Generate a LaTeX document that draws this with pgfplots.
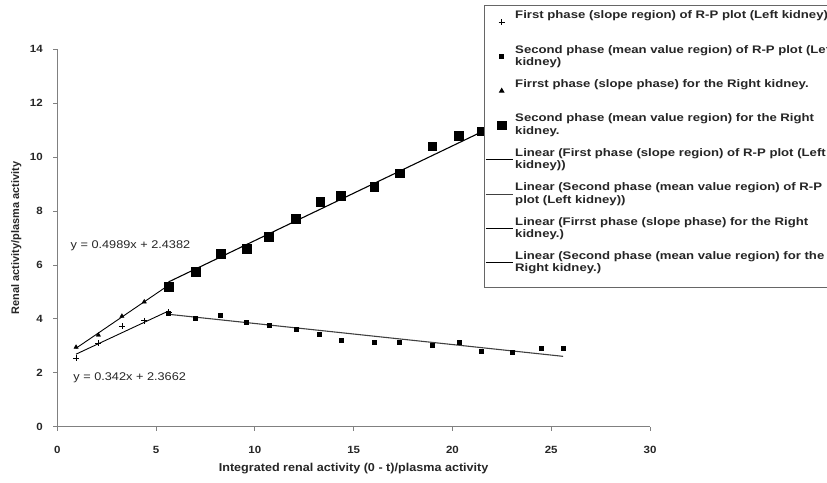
\documentclass[border=0pt]{standalone}
\usepackage{fontspec}
\setmainfont{Liberation Sans}[FakeStretch=1.1]
\newfontfamily\xlabfont{Liberation Sans Bold}[FakeStretch=1.1]
\newfontfamily\ylabfont{Liberation Sans Bold}
\newfontfamily\lgfont{Liberation Sans Bold}[FakeStretch=1.2]
\newfontfamily\eqfont{Liberation Sans}[FakeStretch=1.14]
\usepackage{pgfplots}
\pgfplotsset{compat=1.18}
\newcommand{\lgent}[1]{\parbox[t][30.4bp][t]{360bp}{\raggedright #1}}
\begin{document}
\begin{tikzpicture}
\useasboundingbox (0,0) rectangle (827bp,483bp);
\begin{axis}[
  at={(57.3bp,56.3bp)}, anchor=south west,
  scale only axis, width=592.7bp, height=377.4bp,
  xmin=0, xmax=30, ymin=0, ymax=14,
  axis lines*=left,
  axis line style={draw=black!50, line width=1pt},
  xtick={0,5,...,30}, ytick={0,2,...,14},
  tick style={draw=black!50, line width=0.8pt},
  tick align=outside, major tick length=4bp,
  /pgf/number format/assume math mode=true,
  ticklabel style={font=\fontsize{10.5}{12}\selectfont\bfseries, text=black!85},
  xticklabel style={anchor=north, yshift=-12bp},
  yticklabel style={anchor=east, xshift=-7bp},
  xlabel={Integrated renal activity (0 - t)/plasma activity},
  ylabel={Renal activity/plasma activity},
  xlabel style={font=\xlabfont\fontsize{11.5}{13}\selectfont, text=black!85,
     at={(axis description cs:0.5,-0.11)}, anchor=center},
  ylabel style={font=\ylabfont\fontsize{11}{13}\selectfont, text=black!85,
     at={(axis description cs:-0.069,0.5)}, anchor=center},
  legend style={at={(axis description cs:0.7195,1.118)}, anchor=north west,
    draw=black!60, line width=0.8pt, fill=white, inner xsep=1bp, inner ysep=3.5bp,
    font=\lgfont\fontsize{11}{12.5}\selectfont, text=black!85,
    row sep=0pt, cells={anchor=base west},
    nodes={inner sep=2bp, text depth=}},
  legend cell align=left,
  legend image code/.code={\draw[mark repeat=2,mark phase=2,#1]
     plot coordinates {(1bp,3.8bp) (17bp,3.8bp) (28bp,3.8bp)};},
]
% markers
\addplot[only marks, mark=+, mark size=3bp, black, thick] coordinates {
 (0.95,2.55) (2.08,3.09) (3.27,3.73) (4.40,3.93) (5.63,4.25)};
\addlegendentry{\lgent{First phase (slope region) of R-P plot (Left kidney)}}
\addplot[only marks, mark=square*, mark size=2bp, black] coordinates {
 (5.63,4.22) (6.99,4.03) (8.26,4.15) (9.58,3.87) (10.71,3.78) (12.07,3.62)
 (13.28,3.42) (14.35,3.20) (16.03,3.14) (17.33,3.13) (18.97,3.04) (20.32,3.14)
 (21.46,2.80) (23.01,2.78) (24.47,2.90) (25.60,2.90)};
\addlegendentry{\lgent{Second phase (mean value region) of R-P plot (Left\\kidney)}}
\addplot[only marks, mark=triangle*, mark size=2.5bp, black] coordinates {
 (0.95,2.95) (2.08,3.40) (3.27,4.10) (4.40,4.63) (5.63,5.25)};
\addlegendentry{\lgent{Firrst phase (slope phase) for the Right kidney.}}
\addplot[only marks, mark=square*, mark size=4.3bp, black] coordinates {
 (5.63,5.19) (6.99,5.74) (8.26,6.42) (9.58,6.60) (10.71,7.04) (12.07,7.72)
 (13.30,8.35) (14.35,8.58) (16.03,8.90) (17.33,9.41) (18.97,10.41) (20.32,10.80)
 (21.46,10.96)};
\addlegendentry{\lgent{Second phase (mean value region) for the Right\\kidney.}}
% trend lines
\addplot[black, line width=0.9pt] coordinates {(0.95,2.691) (5.63,4.292)};
\addlegendentry{\lgent{Linear (First phase (slope region) of R-P plot (Left\\kidney))}}
\addplot[black!75, line width=1.1pt] coordinates {(5.63,4.17) (25.6,2.61)};
\addlegendentry{\lgent{Linear (Second phase (mean value region) of R-P\\plot (Left kidney))}}
\addplot[black, line width=0.9pt] coordinates {(0.95,2.912) (5.63,5.247)};
\addlegendentry{\lgent{Linear (Firrst phase (slope phase) for the Right\\kidney.)}}
\addplot[black, line width=1.1pt] coordinates {(5.63,5.37) (21.46,10.93)};
\addlegendentry{\lgent{Linear (Second phase (mean value region) for the\\Right kidney.)}}
\node[anchor=west, font=\eqfont\fontsize{11.2}{13}\selectfont, text=black!85] at (axis cs:0.5,6.7) {y = 0.4989x + 2.4382};
\node[anchor=west, font=\eqfont\fontsize{11.2}{13}\selectfont, text=black!85] at (axis cs:0.64,1.8) {y = 0.342x + 2.3662};
\end{axis}
\end{tikzpicture}
\end{document}
